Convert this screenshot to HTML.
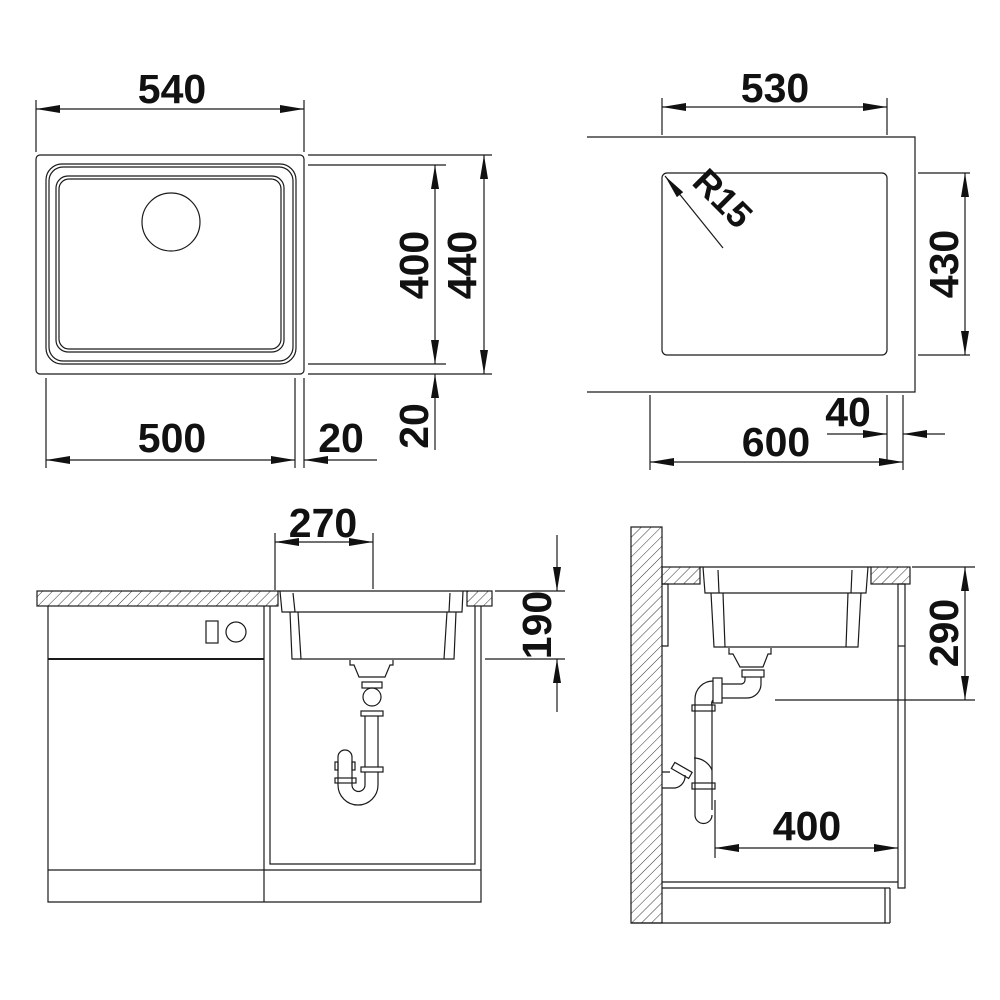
<!DOCTYPE html>
<html><head><meta charset="utf-8"><style>
html,body{margin:0;padding:0;background:#fff;}
svg{display:block}
text{font-family:"Liberation Sans",sans-serif;font-weight:bold;font-size:41px;fill:#111;text-anchor:middle}
</style></head><body>
<svg width="1000" height="1000" viewBox="0 0 1000 1000" xmlns="http://www.w3.org/2000/svg">
<defs>
<pattern id="h" patternUnits="userSpaceOnUse" width="7" height="7" patternTransform="rotate(45)">
<line x1="0" y1="0" x2="0" y2="7" stroke="#333" stroke-width="1"/>
</pattern>
<marker id="b" viewBox="0 0 24 8" refX="24" refY="4" markerWidth="24" markerHeight="8" markerUnits="userSpaceOnUse" orient="auto-start-reverse"><path d="M0,0 L24,4 L0,8 z" fill="#111"/></marker>
</defs>
<g fill="none" stroke="#1a1a1a" stroke-width="1.2">
<!-- TOP LEFT -->
<line x1="36" y1="100" x2="36" y2="152"/><line x1="304" y1="100" x2="304" y2="152"/>
<line x1="36" y1="109" x2="304" y2="109" marker-start="url(#b)" marker-end="url(#b)"/>
<rect x="36" y="155" width="268" height="219" rx="4"/>
<rect x="46" y="164" width="250" height="200" rx="16"/>
<rect x="49" y="167" width="244" height="194" rx="14"/>
<rect x="56" y="176" width="228" height="176" rx="12"/>
<rect x="59" y="179" width="222" height="170" rx="10"/>
<circle cx="171" cy="222" r="29"/>
<line x1="308" y1="155" x2="492" y2="155"/><line x1="308" y1="165" x2="446" y2="165"/>
<line x1="308" y1="364" x2="446" y2="364"/><line x1="308" y1="374" x2="492" y2="374"/>
<line x1="435" y1="165" x2="435" y2="364" marker-start="url(#b)" marker-end="url(#b)"/>
<line x1="484" y1="155" x2="484" y2="374" marker-start="url(#b)" marker-end="url(#b)"/>
<line x1="435" y1="450" x2="435" y2="374" marker-end="url(#b)"/>
<line x1="46" y1="378" x2="46" y2="468"/><line x1="295" y1="378" x2="295" y2="468"/><line x1="304" y1="378" x2="304" y2="468"/>
<line x1="46" y1="460" x2="295" y2="460" marker-start="url(#b)" marker-end="url(#b)"/>
<line x1="377" y1="460" x2="304" y2="460" marker-end="url(#b)"/>
<!-- TOP RIGHT -->
<line x1="662" y1="98" x2="662" y2="135"/><line x1="887" y1="98" x2="887" y2="135"/>
<line x1="662" y1="107" x2="887" y2="107" marker-start="url(#b)" marker-end="url(#b)"/>
<polyline points="587,137 915,137 915,392 587,392"/>
<rect x="662" y="173" width="225" height="182" rx="5"/>
<line x1="723" y1="248" x2="665" y2="176" marker-end="url(#b)"/>
<line x1="918" y1="173" x2="970" y2="173"/><line x1="918" y1="355" x2="970" y2="355"/>
<line x1="965" y1="173" x2="965" y2="355" marker-start="url(#b)" marker-end="url(#b)"/>
<line x1="650" y1="395" x2="650" y2="470"/><line x1="903" y1="395" x2="903" y2="470"/><line x1="887" y1="395" x2="887" y2="462"/>
<line x1="650" y1="462" x2="903" y2="462" marker-start="url(#b)" marker-end="url(#b)"/>
<line x1="827" y1="434" x2="887" y2="434" marker-end="url(#b)"/>
<line x1="945" y1="434" x2="903" y2="434" marker-end="url(#b)"/>
<!-- BOTTOM LEFT -->
<line x1="275" y1="533" x2="275" y2="590"/><line x1="373" y1="533" x2="373" y2="589"/>
<line x1="275" y1="542" x2="373" y2="542" marker-start="url(#b)" marker-end="url(#b)"/>
<rect x="37" y="591" width="241" height="15" fill="url(#h)"/>
<rect x="467" y="591" width="25" height="15" fill="url(#h)"/>
<line x1="278" y1="591" x2="467" y2="591"/>
<polyline points="280,591 282,612 462,612 463,591"/>
<polyline points="290,612 292,659 454,659 456,612"/>
<line x1="293" y1="593" x2="295" y2="612"/><line x1="450" y1="593" x2="449" y2="612"/>
<line x1="298" y1="612" x2="301" y2="659"/><line x1="447" y1="612" x2="444" y2="659"/>
<polyline points="48,606 48,902 481,902 481,606"/>
<line x1="264" y1="606" x2="264" y2="902"/>
<line x1="48" y1="659" x2="264" y2="659" stroke-width="2"/>
<line x1="48" y1="870" x2="481" y2="870"/>
<polyline points="270,606 270,864 475,864 475,606"/>
<rect x="206" y="621" width="12" height="22"/>
<circle cx="236" cy="632" r="10"/>
<!-- trap left -->
<polyline points="350,660 350,665 354,665 359,677 385,677 390,665 393,665 393,660"/>
<rect x="362" y="682" width="20" height="6"/>
<circle cx="372" cy="697" r="9"/>
<rect x="361" y="711" width="22" height="5"/>
<line x1="365" y1="716" x2="365" y2="767"/><line x1="378" y1="716" x2="378" y2="767"/>
<rect x="361" y="767" width="22" height="5"/>
<path d="M378,772 L378,785 A20,20 0 0 1 338,785 L338,757 A7,7 0 0 1 352,757 L352,785 A6.5,6.5 0 0 0 365,785 L365,772"/>
<rect x="335" y="778" width="21" height="5"/>
<rect x="335" y="762" width="3" height="8"/><rect x="352" y="762" width="3" height="8"/>
<line x1="495" y1="591" x2="565" y2="591"/><line x1="485" y1="659" x2="565" y2="659"/>
<line x1="557" y1="535" x2="557" y2="591" marker-end="url(#b)"/>
<line x1="557" y1="712" x2="557" y2="659" marker-end="url(#b)"/>
<!-- BOTTOM RIGHT -->
<rect x="631" y="527" width="31" height="396" fill="url(#h)"/>
<rect x="662" y="567" width="38" height="17" fill="url(#h)"/>
<rect x="871" y="567" width="39" height="17" fill="url(#h)"/>
<polyline points="700,567 871,567"/>
<polyline points="703,567 705,593 866,593 868,567"/>
<polyline points="711,593 714,647 858,647 861,593"/>
<line x1="718" y1="570" x2="719" y2="593"/><line x1="852" y1="570" x2="851" y2="593"/>
<line x1="723" y1="593" x2="725" y2="647"/><line x1="848" y1="593" x2="846" y2="647"/>
<polyline points="662,584 668,584 668,646 662,646"/>
<polyline points="898,584 905,584 905,888 898,888 898,584"/>
<line x1="898" y1="646" x2="905" y2="646"/>
<line x1="662" y1="882" x2="898" y2="882"/>
<line x1="662" y1="888" x2="890" y2="888"/>
<line x1="885" y1="888" x2="885" y2="923"/><line x1="890" y1="888" x2="890" y2="923"/>
<line x1="631" y1="923" x2="890" y2="923"/>
<polyline points="729,648 729,654 733,654 740,667 763,667 768,654 771,654 771,648"/>
<rect x="742" y="670" width="22" height="7"/>
<path d="M761,677 L761,684 A14,14 0 0 1 747,698 L722,698 M745,677 L745,680 A4,4 0 0 1 741,684 L722,684"/>
<rect x="713" y="678" width="9" height="25"/>
<path d="M713,681 A18,18 0 0 0 695,699 L695,815 M713,700 A5,5 0 0 0 712,705 L712,810"/>
<rect x="692" y="705" width="23" height="6"/>
<rect x="692" y="783" width="23" height="6"/>
<path d="M695,815 A8,8 0 0 0 712,815"/>
<path d="M694,758 A20,20 0 0 1 712,770 M662,772 L670,772 M662,788 L675,788 A12,12 0 0 0 685,775"/>
<rect x="672" y="767" width="20" height="7" transform="rotate(30 682 770)"/>
<line x1="912" y1="567" x2="975" y2="567"/><line x1="775" y1="700" x2="975" y2="700"/>
<line x1="965" y1="567" x2="965" y2="700" marker-start="url(#b)" marker-end="url(#b)"/>
<line x1="715" y1="800" x2="715" y2="858"/>
<line x1="715" y1="848" x2="898" y2="848" marker-start="url(#b)" marker-end="url(#b)"/>
</g>
<!-- labels -->
<text x="172" y="103">540</text>
<text x="172" y="452">500</text>
<text x="341" y="452">20</text>
<text transform="translate(428,265) rotate(-90)">400</text>
<text transform="translate(476,265) rotate(-90)">440</text>
<text transform="translate(428,426) rotate(-90)">20</text>
<text x="775" y="102">530</text>
<text x="776" y="456">600</text>
<text x="848" y="426">40</text>
<text transform="translate(958,264) rotate(-90)">430</text>
<text transform="translate(714,207) rotate(45)" style="font-size:36px">R15</text>
<text x="323" y="537">270</text>
<text transform="translate(551,625) rotate(-90)">190</text>
<text transform="translate(958,633) rotate(-90)">290</text>
<text x="807" y="840">400</text>
</svg>
</body></html>
